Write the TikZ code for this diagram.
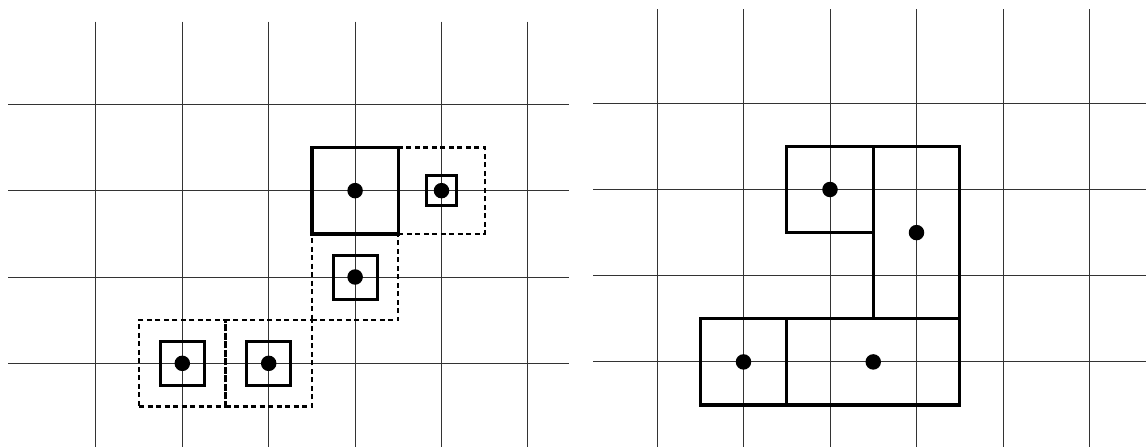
\documentclass[tikz,border=0pt]{standalone}
\begin{document}
\begin{tikzpicture}[x=1pt,y=-1pt,
  gridline/.style={line width=1pt,black!80},
  bigbox/.style={draw,line width=3.4pt,rectangle,inner sep=0pt,outer sep=0pt,minimum width=86.4pt,minimum height=86.4pt},
  dashbox/.style={draw,line width=2.2pt,dash pattern=on 5pt off 3.5pt,rectangle,inner sep=0pt,outer sep=0pt,minimum width=86.4pt,minimum height=86.4pt},
  innerbox/.style={draw,line width=3pt,rectangle,inner sep=0pt,outer sep=0pt,minimum width=44pt,minimum height=44pt},
  smallbox/.style={draw,line width=3pt,rectangle,inner sep=0pt,outer sep=0pt,minimum width=30.4pt,minimum height=30.4pt},
  region/.style={draw,line width=3.3pt,line join=miter},
  dot/.style={circle,fill=black,inner sep=0pt,minimum size=15.5pt}]
\useasboundingbox (0,0) rectangle (1146,447);
% ---------- left panel grid ----------
\foreach \k in {0,...,5} {
  \draw[gridline] ({95.9+86.4*\k},21.7) -- ({95.9+86.4*\k},447);
}
\foreach \k in {0,...,3} {
  \draw[gridline] (8.3,{104.3+86.35*\k}) -- (569,{104.3+86.35*\k});
}
% ---------- right panel grid ----------
\foreach \k in {0,...,5} {
  \draw[gridline] ({657+86.5*\k},9.3) -- ({657+86.5*\k},447);
}
\foreach \k in {0,...,3} {
  \draw[gridline] (593,{103.3+86.2*\k}) -- (1146,{103.3+86.2*\k});
}
% ---------- left panel cells ----------
\node[dashbox] (dR) at (441.5,190.65) {};
\node[dashbox] (dB) at (355.1,277) {};
\node[dashbox] (dL1) at (182.3,363.35) {};
\node[dashbox] (dL2) at (268.7,363.35) {};
\node[bigbox] (big) at (355.1,190.65) {};
\node[smallbox] (sR) at (441.5,190.65) {};
\node[innerbox] (iB) at (355.1,277) {};
\node[innerbox] (iL1) at (182.3,363.35) {};
\node[innerbox] (iL2) at (268.7,363.35) {};
\node[dot] (p1) at (355.1,190.65) {};
\node[dot] (p2) at (441.5,190.65) {};
\node[dot] (p3) at (355.1,277) {};
\node[dot] (p4) at (182.3,363.35) {};
\node[dot] (p5) at (268.7,363.35) {};
% ---------- right panel regions ----------
\draw[region] (786.75,146.4) rectangle (873.25,232.6);
\draw[region] (873.25,146.4) rectangle (959.75,318.8);
\draw[region] (700.25,318.8) rectangle (786.75,405);
\draw[region] (786.75,318.8) rectangle (959.75,405);
\node[dot] (q1) at (830,189.5) {};
\node[dot] (q2) at (916.5,232.6) {};
\node[dot] (q3) at (743.5,361.9) {};
\node[dot] (q4) at (873.25,361.9) {};
\end{tikzpicture}
\end{document}
